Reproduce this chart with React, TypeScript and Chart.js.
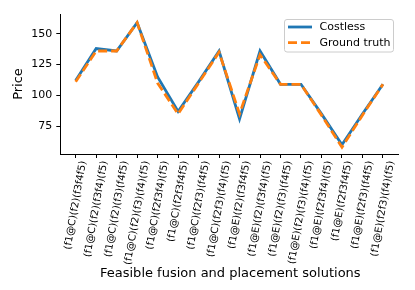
import { useEffect, useRef } from "react";
import { Chart, registerables } from "chart.js";
Chart.register(...registerables);

const categories = [
  "(f1@C)(f2)(f3f4f5)",
  "(f1@C)(f2)(f3f4)(f5)",
  "(f1@C)(f2)(f3)(f4f5)",
  "(f1@C)(f2)(f3)(f4)(f5)",
  "(f1@C)(f2f3f4)(f5)",
  "(f1@C)(f2f3f4f5)",
  "(f1@C)(f2f3)(f4f5)",
  "(f1@C)(f2f3)(f4)(f5)",
  "(f1@E)(f2)(f3f4f5)",
  "(f1@E)(f2)(f3f4)(f5)",
  "(f1@E)(f2)(f3)(f4f5)",
  "(f1@E)(f2)(f3)(f4)(f5)",
  "(f1@E)(f2f3f4)(f5)",
  "(f1@E)(f2f3f4f5)",
  "(f1@E)(f2f3)(f4f5)",
  "(f1@E)(f2f3)(f4)(f5)",
];
const costless = [112, 138, 136, 159, 115, 87, 111, 136, 81, 136, 109, 109, 85, 60, 85, 109];
const groundTruth = [111, 136, 136, 159, 110, 85, 110, 135, 85, 133, 109, 109, 84, 58, 84, 109];
const yTicks = [75, 100, 125, 150];

const FONT = '"DejaVu Sans", sans-serif';

export default function App() {
  const ref = useRef<HTMLCanvasElement>(null);
  useEffect(() => {
    const canvas = ref.current!;
    const mplPlugin = {
      id: "mplExtras",
      afterDraw(chart: any) {
        const { ctx, chartArea } = chart;
        const x = chart.scales.x;
        ctx.save();
        ctx.fillStyle = "#000";
        const fs = 10;
        ctx.font = `${fs}px ${FONT}`;
        const rot = (80 * Math.PI) / 180;
        const H = fs * 1.164;
        categories.forEach((lab, i) => {
          const px = x.getPixelForValue(i);
          const L = ctx.measureText(lab).width;
          const bh = L * Math.sin(rot) + H * Math.cos(rot);
          const cy = 160 + bh / 2;
          ctx.save();
          ctx.translate(px, cy);
          ctx.rotate(-rot);
          ctx.textAlign = "center";
          ctx.textBaseline = "middle";
          ctx.fillText(lab, 0, 0);
          ctx.restore();
        });
        ctx.font = `13px ${FONT}`;
        ctx.textAlign = "center";
        ctx.textBaseline = "alphabetic";
        ctx.fillText(
          "Feasible fusion and placement solutions",
          (chartArea.left + chartArea.right) / 2 + 1,
          277
        );
        // legend
        const bx = 284.5, by = 19.5, bw = 109, bh2 = 32.5, r = 2.5;
        ctx.beginPath();
        ctx.moveTo(bx + r, by);
        ctx.arcTo(bx + bw, by, bx + bw, by + bh2, r);
        ctx.arcTo(bx + bw, by + bh2, bx, by + bh2, r);
        ctx.arcTo(bx, by + bh2, bx, by, r);
        ctx.arcTo(bx, by, bx + bw, by, r);
        ctx.closePath();
        ctx.fillStyle = "rgba(255,255,255,0.8)";
        ctx.fill();
        ctx.strokeStyle = "#cccccc";
        ctx.lineWidth = 1;
        ctx.stroke();
        const rows = [27, 42.7];
        chart.data.datasets.forEach((ds: any, i: number) => {
          const yy = rows[i];
          ctx.beginPath();
          ctx.setLineDash(ds.borderDash || []);
          ctx.strokeStyle = ds.borderColor;
          ctx.lineWidth = ds.borderWidth;
          ctx.moveTo(288, yy);
          ctx.lineTo(312, yy);
          ctx.stroke();
          ctx.setLineDash([]);
          ctx.fillStyle = "#000";
          ctx.font = `11px ${FONT}`;
          ctx.textAlign = "left";
          ctx.textBaseline = "middle";
          ctx.fillText(ds.label, 319.5, yy);
        });
        ctx.restore();
      },
    };

    const axisCommon = {
      grid: {
        drawOnChartArea: false,
        drawTicks: true,
        tickLength: 4,
        tickColor: "#000",
        tickWidth: 1,
      },
      border: { display: true, color: "#000", width: 1 },
    };

    const chart = new Chart(canvas, {
      type: "line",
      data: {
        datasets: [
          {
            label: "Costless",
            data: costless.map((v, i) => ({ x: i, y: v })),
            borderColor: "#1f77b4",
            backgroundColor: "#1f77b4",
            borderWidth: 2.8,
            pointRadius: 0,
            tension: 0,
            order: 1,
          },
          {
            label: "Ground truth",
            data: groundTruth.map((v, i) => ({ x: i, y: v })),
            borderColor: "#ff7f0e",
            backgroundColor: "#ff7f0e",
            borderWidth: 2.8,
            borderDash: [9, 4],
            pointRadius: 0,
            tension: 0,
            order: 0,
          },
        ],
      },
      options: {
        animation: false,
        responsive: false,
        devicePixelRatio: 1,
        layout: { padding: { top: 14, right: 16.7, left: 0, bottom: 0 } },
        plugins: { legend: { display: false }, tooltip: { enabled: false } },
        scales: {
          x: {
            type: "linear",
            min: -0.75,
            max: 15.75,
            afterBuildTicks: (s: any) => {
              s.ticks = categories.map((_, i) => ({ value: i }));
            },
            afterFit: (s: any) => {
              s.height = 136;
            },
            ticks: { display: false },
            ...axisCommon,
          },
          y: {
            type: "linear",
            min: 52.5,
            max: 166,
            afterBuildTicks: (s: any) => {
              s.ticks = yTicks.map((v) => ({ value: v }));
            },
            afterFit: (s: any) => {
              s.width = 60.3;
            },
            ticks: { font: { family: FONT, size: 11 }, color: "#000", padding: 4 },
            title: {
              display: true,
              text: "Price",
              font: { family: FONT, size: 13 },
              color: "#000",
              padding: { top: 11, bottom: 0 },
            },
            ...axisCommon,
          },
        },
      },
      plugins: [mplPlugin],
    } as any);
    return () => chart.destroy();
  }, []);

  return (
    <div style={{ position: "absolute", left: 0, top: 0, width: 415, height: 290, background: "#fff" }}>
      <canvas ref={ref} width={415} height={290} />
    </div>
  );
}
